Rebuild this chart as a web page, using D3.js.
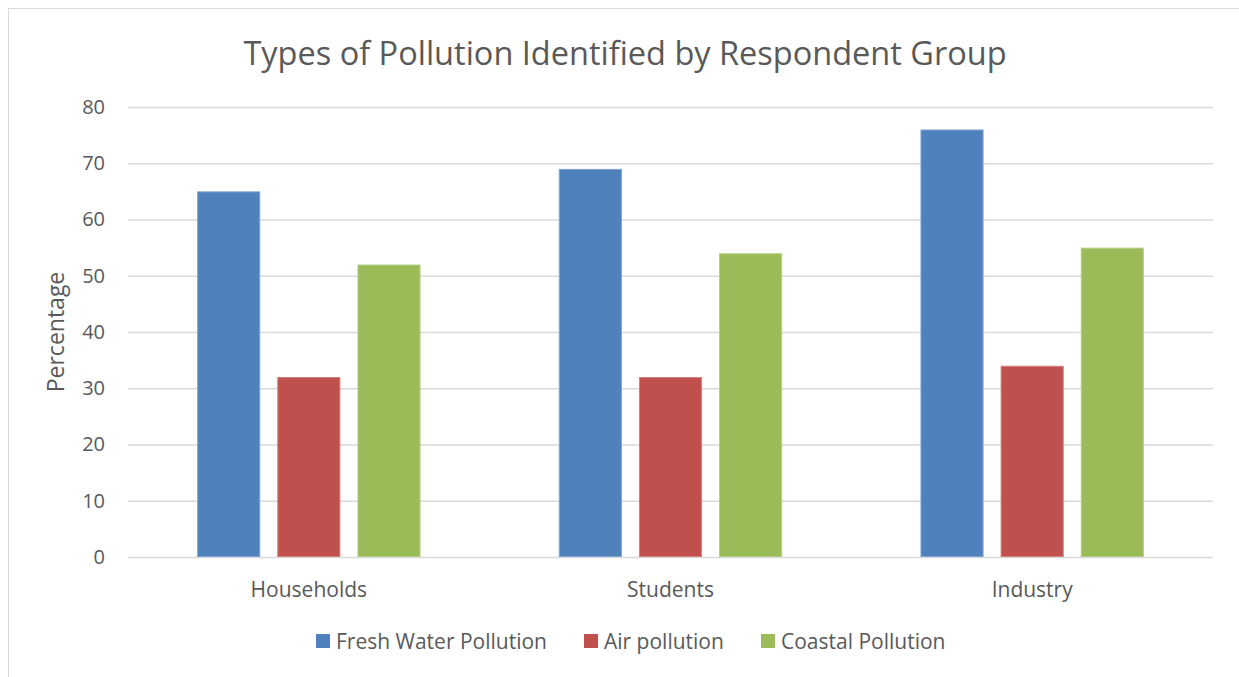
<!DOCTYPE html>
<html>
<head>
<meta charset="utf-8">
<script src="https://cdn.jsdelivr.net/npm/d3@7"></script>
<style>
  html, body { margin: 0; padding: 0; background: #ffffff; }
  svg { display: block; font-family: "Open Sans", sans-serif; }
</style>
</head>
<body>
<svg id="chart" width="1239" height="677"></svg>
<script>
// Respondent groups along the x axis
const categories = ["Households", "Students", "Industry"];
// Pollution types (series)
const seriesNames = ["Fresh Water Pollution", "Air pollution", "Coastal Pollution"];
// Percentage of each group identifying each type
const freshWater = [65, 69, 76];
const airPollution = [32, 32, 34];
const coastalPollution = [52, 54, 55];
// Y axis ticks
const yTicks = [0, 10, 20, 30, 40, 50, 60, 70, 80];

const seriesValues = [freshWater, airPollution, coastalPollution];
const colors = ["#4F81BD", "#C0504D", "#9BBB59"];
const strokes = ["#7FA3D0", "#D47E7C", "#B6CF86"];
const textColor = "#595959";

const svg = d3.select("#chart");

// Chart frame
svg.append("rect")
  .attr("x", 8.5).attr("y", 8.5)
  .attr("width", 1250).attr("height", 700)
  .attr("fill", "#fff").attr("stroke", "#D9D9D9").attr("stroke-width", 1);

const plot = { left: 128, right: 1213, top: 107, bottom: 557 };

const y = d3.scaleLinear().domain([0, 80]).range([plot.bottom, plot.top]);
const x0 = d3.scaleBand().domain(categories).range([plot.left, plot.right])
  .paddingInner(0).paddingOuter(0);
const x1 = d3.scaleBand().domain(seriesNames).range([0, x0.bandwidth()])
  .paddingInner(0.2125).paddingOuter(0.8625);

// Gridlines and y labels
const yAxis = d3.axisLeft(y).tickValues(yTicks).tickSize(-(plot.right - plot.left)).tickPadding(23);
const yg = svg.append("g").attr("transform", `translate(${plot.left},0)`).call(yAxis);
yg.select(".domain").remove();
yg.selectAll(".tick line").attr("stroke", "#D9D9D9").attr("stroke-width", 1.5);
yg.selectAll(".tick text")
  .attr("fill", textColor).style("font-size", "20px").style("font-family", "'Open Sans', sans-serif");

// Bars
const groups = svg.append("g").selectAll("g")
  .data(categories).join("g")
  .attr("transform", d => `translate(${x0(d)},0)`);

groups.selectAll("rect")
  .data((c, ci) => seriesNames.map((s, si) => ({ s, si, v: seriesValues[si][ci] })))
  .join("rect")
  .attr("x", d => x1(d.s) + 0.5)
  .attr("y", d => y(d.v) + 0.5)
  .attr("width", x1.bandwidth() - 1)
  .attr("height", d => y(0) - y(d.v) - 1)
  .attr("fill", d => colors[d.si])
  .attr("stroke", d => strokes[d.si])
  .attr("stroke-width", 1);

// Category axis labels
const xAxis = d3.axisBottom(x0).tickSize(0).tickPadding(25);
const xg = svg.append("g").attr("transform", `translate(0,${plot.bottom})`).call(xAxis);
xg.select(".domain").remove();
xg.selectAll(".tick text")
  .attr("fill", textColor).style("font-size", "21px").style("font-family", "'Open Sans', sans-serif");

// Title
svg.append("text")
  .attr("x", 625).attr("y", 65)
  .attr("text-anchor", "middle")
  .attr("fill", textColor)
  .style("font-size", "32.5px")
  .text("Types of Pollution Identified by Respondent Group");

// Y axis title
svg.append("text")
  .attr("transform", "translate(64,332) rotate(-90)")
  .attr("text-anchor", "middle")
  .attr("fill", textColor)
  .style("font-size", "23px")
  .text("Percentage");

// Legend
const legendX = [316, 584, 761];
const legend = svg.append("g").selectAll("g")
  .data(seriesNames).join("g")
  .attr("transform", (d, i) => `translate(${legendX[i]},634)`);
legend.append("rect")
  .attr("width", 14).attr("height", 14)
  .attr("fill", (d, i) => colors[i]);
legend.append("text")
  .attr("x", 20).attr("y", 15)
  .attr("fill", textColor)
  .style("font-size", "21px")
  .text(d => d);
</script>
</body>
</html>
